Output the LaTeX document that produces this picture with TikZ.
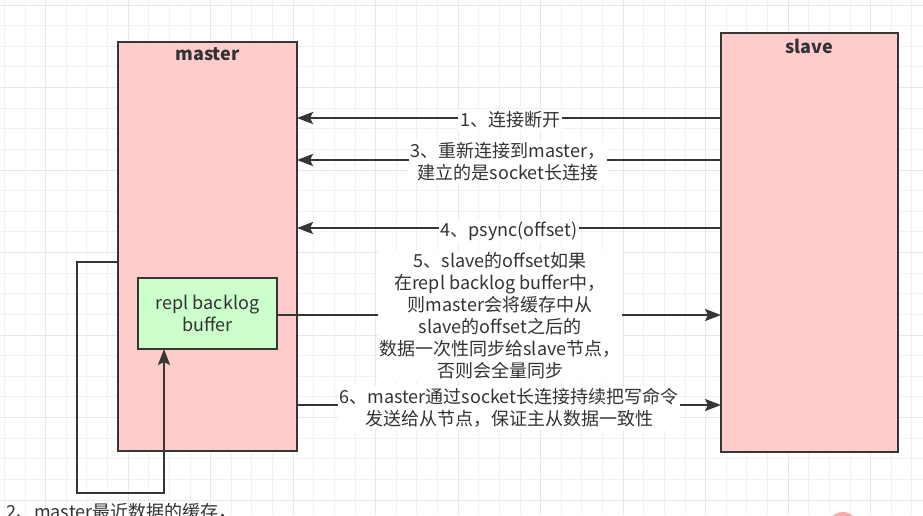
\documentclass[tikz,border=0pt]{standalone}
\usepackage{fontspec}
\setmainfont{Noto Sans CJK SC}
\usetikzlibrary{arrows.meta}
\definecolor{pinkf}{HTML}{FFCCCC}
\definecolor{greenf}{HTML}{CCFFCC}
\definecolor{strk}{HTML}{363636}
\definecolor{txt}{HTML}{333333}
\definecolor{gmin}{HTML}{F1F1F1}
\definecolor{gmaj}{HTML}{E8E8E8}
\definecolor{blob}{HTML}{FFA8A8}
\tikzset{
  box/.style={draw=strk, line width=2.2pt, inner sep=0pt, outer sep=0pt, anchor=north west},
  arr/.style={draw=strk, line width=2.2pt, -{Stealth[length=16pt, width=12pt, inset=3pt]}},
  lbl/.style={fill=white, text=txt, align=center, inner sep=2pt, font=\fontsize{18}{22}\selectfont},
  title/.style={text=txt, font=\fontsize{18}{22}\selectfont\bfseries},
}
\begin{document}
\begin{tikzpicture}[x=1pt, y=-1pt]
\useasboundingbox (0,0) rectangle (923,515);
\fill[white] (0,0) rectangle (923,515);
% grid
\foreach \i in {0,...,44} {
  \draw[gmin, line width=1pt] (4.45+\i*20.625,0) -- (4.45+\i*20.625,515);
}
\foreach \i in {0,...,25} {
  \draw[gmin, line width=1pt] (0,5+\i*20.625) -- (923,5+\i*20.625);
}
\foreach \i in {0,...,11} {
  \draw[gmaj, line width=1pt] (45.7+\i*82.5,0) -- (45.7+\i*82.5,515);
}
\foreach \i in {0,...,6} {
  \draw[gmaj, line width=1pt] (0,5+\i*82.5) -- (923,5+\i*82.5);
}
% boxes
\node[box, fill=pinkf, minimum width=179pt, minimum height=409pt] (master) at (118,42) {};
\node[box, fill=pinkf, minimum width=177pt, minimum height=419pt] (slave) at (721,33) {};
\node[box, fill=greenf, minimum width=139pt, minimum height=71pt, text=txt, align=center,
      font=\fontsize{18}{22}\selectfont] (buf) at (138,278) {repl backlog\\buffer};
\node[title] (mt) at (207.5,54) {master};
\node[title] (st) at (809,46) {slave};
% arrows
\draw[arr] (slave.west |- 0,118) -- (master.east |- 0,118);
\draw[arr] (slave.west |- 0,160) -- (master.east |- 0,160);
\draw[arr] (slave.west |- 0,228) -- (master.east |- 0,228);
\draw[arr] (buf.east |- 0,315) -- (slave.west |- 0,315);
\draw[arr] (master.east |- 0,405) -- (slave.west |- 0,405);
\coordinate (lp1) at (77,262);
\coordinate (lp2) at (77,493);
\coordinate (lp3) at (164,493);
\draw[arr] (master.west |- lp1) -- (lp1) -- (lp2) -- (lp3) -- (buf.south -| lp3);
% labels
\node[lbl] (l1) at (510,120) {1、连接断开};
\node[lbl] (l3) at (508,162) {3、重新连接到master，\\建立的是socket长连接};
\node[lbl] (l4) at (509,231) {4、psync(offset)};
\node[lbl] (l5) at (500,316) {5、slave的offset如果\\在repl backlog buffer中，\\则master会将缓存中从\\slave的offset之后的\\数据一次性同步给slave节点，\\否则会全量同步};
\node[lbl] (l6) at (509,408) {6、master通过socket长连接持续把写命令\\发送给从节点，保证主从数据一致性};
\node[text=txt, anchor=base west, inner sep=0pt, font=\fontsize{18}{22}\selectfont] (l2) at (6,518) {2、master最近数据的缓存，};
\fill[blob] (843,527) circle (15);
\end{tikzpicture}
\end{document}
